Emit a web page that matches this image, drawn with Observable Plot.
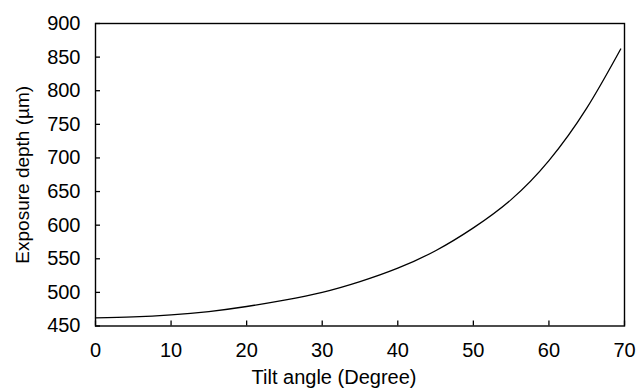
<!DOCTYPE html>
<html>
<head>
<meta charset="utf-8">
<script src="https://cdn.jsdelivr.net/npm/d3@7"></script>
<script src="https://cdn.jsdelivr.net/npm/@observablehq/plot@0.6"></script>
<style>
  html, body { margin: 0; padding: 0; background: #fff; }
  #chart svg { display: block; background: #fff; }
</style>
</head>
<body>
<div id="chart"></div>
<script>
const angles = [0, 5, 10, 15, 20, 25, 30, 35, 40, 45, 50, 55, 60, 65, 69.5];
const depths = [462, 463.5, 466.5, 471.5, 479, 488.5, 500, 516, 536, 562, 596, 638, 696, 774, 862];
const xTicks = [0, 10, 20, 30, 40, 50, 60, 70];
const yTicks = [450, 500, 550, 600, 650, 700, 750, 800, 850, 900];
const xTitle = "Tilt angle (Degree)";
const yTitle = "Exposure depth (µm)";

const data = angles.map((a, i) => ({angle: a, depth: depths[i]}));

const chart = Plot.plot({
  width: 636,
  height: 390,
  marginLeft: 95,
  marginRight: 12,
  marginTop: 23,
  marginBottom: 64.5,
  style: {fontFamily: "'Liberation Sans', Arial, sans-serif", fontSize: "20px", color: "#000", background: "#fff"},
  x: {domain: [0, 70]},
  y: {domain: [450, 900]},
  marks: [
    Plot.axisX({ticks: xTicks, tickSize: -5, tickPadding: 22, label: null, strokeWidth: 1.3, fontSize: 20}),
    Plot.axisY({ticks: yTicks, tickSize: -5, tickPadding: 20, label: null, strokeWidth: 1.3, fontSize: 20}),
    Plot.frame({stroke: "#000", strokeWidth: 1.4}),
    Plot.line(data, {x: "angle", y: "depth", curve: "natural", stroke: "#000", strokeWidth: 1.3}),
    Plot.text([xTitle], {frameAnchor: "bottom", textAnchor: "middle", dx: -26, dy: 58, fontSize: 20}),
    Plot.text([yTitle], {frameAnchor: "left", textAnchor: "middle", rotate: -90, dx: -73, fontSize: 19})
  ]
});
document.getElementById("chart").appendChild(chart);
</script>
</body>
</html>
